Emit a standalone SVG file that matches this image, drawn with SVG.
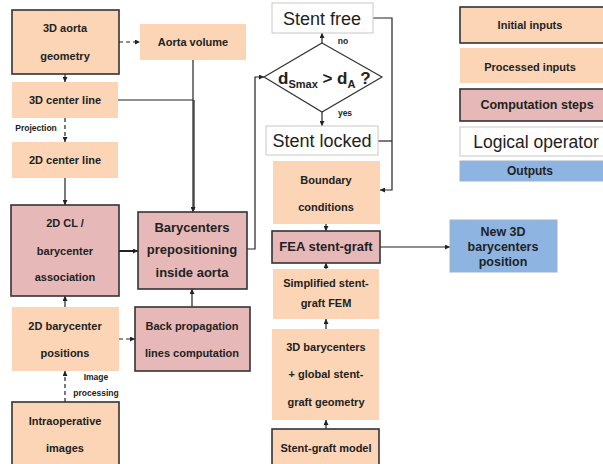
<svg xmlns="http://www.w3.org/2000/svg" width="603" height="464" viewBox="0 0 603 464">
<defs>
<marker id="ah" viewBox="0 0 6 6" refX="6" refY="3" markerWidth="5" markerHeight="5" orient="auto" markerUnits="userSpaceOnUse">
<path d="M0,0 L6,3 L0,6 Z" fill="#222"/>
</marker>
<style>
.ini{fill:#FBD5B5;stroke:#333;stroke-width:1.6}
.pro{fill:#FBD5B5;stroke:none}
.cmp{fill:#E6B9B8;stroke:#333;stroke-width:1.6}
.log{fill:#fff;stroke:#c8c8c8;stroke-width:1}
.out{fill:#8EB4E2;stroke:#9fb3cc;stroke-width:1}
text{font-family:"Liberation Sans",Arial,sans-serif;font-weight:bold;fill:#222;text-anchor:middle}
.t11{font-size:11px}
.t13{font-size:13px}
.sm{font-size:8.5px}
.big{font-weight:normal;font-size:18px}
.c{fill:none;stroke:#222;stroke-width:1.2}
.d{stroke-dasharray:4,3}
</style>
</defs>
<g id="connectors">
<line class="c d" x1="119" y1="42" x2="140" y2="42" marker-end="url(#ah)"/>
<line class="c" x1="65" y1="74" x2="65" y2="82" marker-end="url(#ah)"/>
<line class="c d" x1="65" y1="118" x2="65" y2="142" marker-end="url(#ah)"/>
<line class="c" x1="65" y1="178" x2="65" y2="205" marker-end="url(#ah)"/>
<polyline class="c" points="118,100 193,100"/>
<line class="c" x1="193" y1="60" x2="193" y2="212" marker-end="url(#ah)"/>
<line class="c" x1="194" y1="100" x2="194" y2="210"/>
<line class="c" style="stroke-width:2" x1="119" y1="251" x2="138" y2="251" marker-end="url(#ah)"/>
<line class="c" x1="192" y1="307" x2="192" y2="289" marker-end="url(#ah)"/>
<line class="c" x1="65" y1="307" x2="65" y2="296" marker-end="url(#ah)"/>
<line class="c d" x1="119" y1="339" x2="135" y2="339" marker-end="url(#ah)"/>
<line class="c d" x1="65" y1="402" x2="65" y2="371" marker-end="url(#ah)"/>
<polyline class="c" points="247,249 255,249 255,77 264,77" marker-end="url(#ah)"/>
<line class="c" x1="322" y1="43" x2="322" y2="33" marker-end="url(#ah)"/>
<line class="c" x1="322" y1="112" x2="322" y2="126" marker-end="url(#ah)"/>
<polyline class="c" points="373,18 392,18 392,190 380,190" marker-end="url(#ah)"/>
<line class="c" x1="378" y1="141" x2="392" y2="141"/>
<line class="c" x1="326" y1="224" x2="326" y2="231" marker-end="url(#ah)"/>
<line class="c" x1="326" y1="269" x2="326" y2="263" marker-end="url(#ah)"/>
<line class="c" x1="326" y1="329" x2="326" y2="319" marker-end="url(#ah)"/>
<line class="c" x1="326" y1="429" x2="326" y2="420" marker-end="url(#ah)"/>
<line class="c" x1="380" y1="247" x2="450" y2="247" marker-end="url(#ah)"/>
<text class="sm" x="36" y="131">Projection</text>
<text class="sm" x="96" y="380">Image</text>
<text class="sm" x="96" y="396">processing</text>
<text class="sm" x="343" y="44">no</text>
<text class="sm" x="345" y="116">yes</text>
</g>
<g id="n-aorta-geom"><rect class="ini" x="12" y="10" width="107" height="64"/><text class="t11" x="65" y="32">3D aorta</text><text class="t11" x="65" y="60">geometry</text></g>
<g id="n-aorta-vol"><rect class="pro" x="140" y="24" width="106" height="36"/><text class="t11" x="193" y="46">Aorta volume</text></g>
<g id="n-3dcl"><rect class="pro" x="12" y="82" width="106" height="36"/><text class="t11" x="65" y="104">3D center line</text></g>
<g id="n-2dcl"><rect class="pro" x="12" y="142" width="106" height="36"/><text class="t11" x="65" y="164">2D center line</text></g>
<g id="n-assoc"><rect class="cmp" x="11" y="205" width="108" height="91"/><text class="t11" x="65" y="227">2D CL /</text><text class="t11" x="65" y="255">barycenter</text><text class="t11" x="65" y="281">association</text></g>
<g id="n-prepos"><rect class="cmp" x="138" y="212" width="109" height="77"/><text class="t13" x="192" y="232">Barycenters</text><text class="t13" x="192" y="254">prepositioning</text><text class="t13" x="192" y="277">inside aorta</text></g>
<g id="n-2dbary"><rect class="pro" x="12" y="307" width="107" height="64"/><text class="t11" x="65" y="330">2D barycenter</text><text class="t11" x="65" y="357">positions</text></g>
<g id="n-backprop"><rect class="cmp" x="135" y="307" width="115" height="64"/><text class="t11" x="192" y="330">Back propagation</text><text class="t11" x="192" y="357">lines computation</text></g>
<g id="n-intraop"><rect class="ini" x="12" y="402" width="107" height="70"/><text class="t11" x="65" y="425">Intraoperative</text><text class="t11" x="65" y="452">images</text></g>
<g id="n-stentfree"><rect class="log" x="272" y="3" width="101" height="30"/><text class="big" x="322" y="25">Stent free</text></g>
<g id="n-decision"><polygon points="322,43 382,77 322,112 264,77" fill="#fff" stroke="#333" stroke-width="1.2"/>
<text style="text-anchor:start" x="278" y="84"><tspan font-size="17">d</tspan><tspan font-size="11" dy="4">Smax</tspan><tspan font-size="17" dy="-4"> &gt; d</tspan><tspan font-size="11" dy="4">A</tspan><tspan font-size="17" dy="-4"> ?</tspan></text></g>
<g id="n-stentlocked"><rect class="log" x="266" y="126" width="112" height="29"/><text class="big" x="322" y="147">Stent locked</text></g>
<g id="n-boundary"><rect class="pro" x="273" y="161" width="107" height="63"/><text class="t11" x="326" y="184">Boundary</text><text class="t11" x="326" y="211">conditions</text></g>
<g id="n-fea"><rect class="cmp" x="272" y="231" width="108" height="32"/><text class="t13" x="326" y="251">FEA stent-graft</text></g>
<g id="n-simplified"><rect class="pro" x="273" y="269" width="106" height="50"/><text class="t11" x="326" y="287">Simplified stent-</text><text class="t11" x="326" y="307">graft FEM</text></g>
<g id="n-3dbary"><rect class="pro" x="272" y="329" width="107" height="91"/><text class="t11" x="326" y="351">3D barycenters</text><text class="t11" x="326" y="378">+ global stent-</text><text class="t11" x="326" y="406">graft geometry</text></g>
<g id="n-sgmodel"><rect class="ini" x="272" y="429" width="107" height="45"/><text class="t11" x="326" y="452">Stent-graft model</text></g>
<g id="n-new3d"><rect class="out" x="450" y="220" width="107" height="52"/><text style="font-size:12.5px" x="503" y="236">New 3D</text><text style="font-size:12.5px" x="503" y="251">barycenters</text><text style="font-size:12.5px" x="503" y="266">position</text></g>
<g id="legend">
<rect class="ini" x="460" y="7" width="160" height="36"/><text class="t11" x="530" y="29">Initial inputs</text>
<rect class="pro" x="460" y="48" width="160" height="35"/><text class="t11" x="530" y="71">Processed inputs</text>
<rect class="cmp" x="460" y="89" width="160" height="32"/><text style="font-size:12.5px" x="537" y="109">Computation steps</text>
<rect class="log" x="460" y="127" width="160" height="29"/><text class="big" x="536" y="148" style="font-size:17.5px">Logical operator</text>
<rect class="out" x="460" y="161" width="160" height="20"/><text style="font-size:12px" x="530" y="175">Outputs</text>
</g>
</svg>
